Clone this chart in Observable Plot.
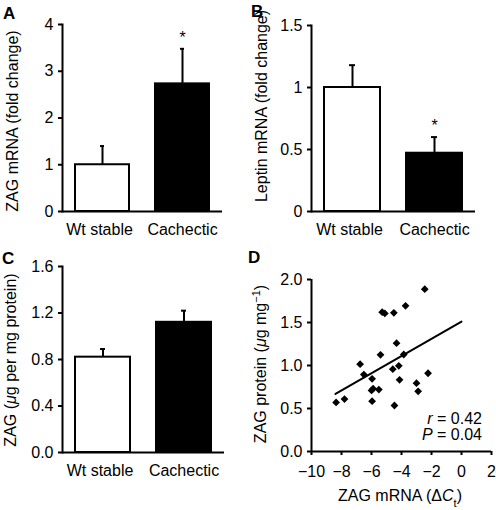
<!DOCTYPE html>
<html><head><meta charset="utf-8">
<script src="https://cdn.jsdelivr.net/npm/d3@7"></script>
<script src="https://cdn.jsdelivr.net/npm/@observablehq/plot@0.6"></script>
<style>
body{margin:0;background:#fff;}
#wrap{position:relative;width:496px;height:510px;font-family:"Liberation Sans",Arial,Helvetica,sans-serif;}
#wrap > svg{position:absolute;overflow:visible;}
</style></head><body><div id="wrap"></div>
<script>
// ---- data ----
const groups = ["Wt stable", "Cachectic"];

const zagMrna = [1.0, 2.73];
const zagMrnaSem = [0.40, 0.75];
const zagMrnaSig = ["", "*"];

const leptinMrna = [1.0, 0.47];
const leptinMrnaSem = [0.18, 0.13];
const leptinMrnaSig = ["", "*"];

const zagProtein = [0.82, 1.12];
const zagProteinSem = [0.07, 0.10];
const zagProteinSig = ["", ""];

const ticksA = [0, 1, 2, 3, 4];
const ticksB = [0, 0.5, 1, 1.5];
const ticksC = [0, 0.4, 0.8, 1.2, 1.6];
const ticksDx = [-10, -8, -6, -4, -2, 0, 2];
const ticksDy = [0, 0.5, 1, 1.5, 2];

const scatterX = [-8.36, -7.8, -6.76, -6.51, -5.96, -6.0, -5.89, -5.96, -5.51, -5.40, -5.29, -5.11,
                  -4.51, -4.58, -4.47, -4.33, -4.18, -4.13, -3.85, -3.73, -3.0, -2.89, -2.45, -2.23];
const scatterY = [0.57, 0.61, 1.015, 0.895, 0.845, 0.71, 0.73, 0.585, 0.72, 1.124, 1.62, 1.605,
                  1.613, 0.957, 0.535, 1.26, 0.996, 0.834, 1.128, 1.694, 0.794, 0.70, 1.887, 0.91];
const fitX = [-8.4, 0];
const fitY = [0.67, 1.51];
const statR = "0.42";
const statP = "0.04";

// ---- helpers ----
const FONT = '"Liberation Sans", Arial, Helvetica, sans-serif';
const wrap = document.getElementById("wrap");
const baseStyle = {fontSize: "16px", fontFamily: FONT, background: "transparent", color: "black", overflow: "visible"};

function place(svg, left, top) {
  svg.style.left = left + "px";
  svg.style.top = top + "px";
  wrap.appendChild(svg);
  return svg;
}

function yLabel(svg, bx, cy, parts) {
  const t = d3.select(svg).append("text")
    .attr("transform", `translate(${bx},${cy}) rotate(-90)`)
    .attr("text-anchor", "middle")
    .attr("font-family", FONT).attr("font-size", 16).attr("fill", "black");
  parts.forEach(p => {
    const s = t.append("tspan").text(p.t);
    if (p.i) s.attr("font-style", "italic");
    if (p.sup) s.attr("font-size", 11).attr("baseline-shift", "super");
    if (p.sub) s.attr("font-size", 11).attr("baseline-shift", "sub");
  });
  return t;
}

function barPanel({mean, sem, sig, yDomain, yTicks, yFormat, margins}) {
  const rows = groups.map((g, i) => ({group: g, mean: mean[i], top: mean[i] + sem[i], sig: sig[i]}));
  return Plot.plot({
    width: 248, height: 255, ...margins,
    style: baseStyle,
    x: {domain: groups, paddingInner: 0.32, paddingOuter: 0.16, label: null},
    y: {domain: yDomain, label: null},
    color: {domain: groups, range: ["white", "black"]},
    marks: [
      Plot.barY(rows, {x: "group", y: "mean", fill: "group", stroke: "black", strokeWidth: 2}),
      Plot.ruleX(rows, {x: "group", y1: "mean", y2: "top", strokeWidth: 2}),
      Plot.tickY(rows, {x: "group", y: "top", strokeWidth: 2, insetLeft: 25, insetRight: 25}),
      Plot.text(rows, {x: "group", y: "top", text: "sig", dy: -11, fontSize: 16}),
      Plot.ruleY([yDomain[0]], {strokeWidth: 2}),
      Plot.frame({anchor: "left", strokeWidth: 2}),
      Plot.axisY(yTicks, {tickSize: 4, tickPadding: 5, strokeWidth: 2, tickFormat: yFormat, label: null}),
      Plot.axisX([groups[0]], {tickSize: 0, tickPadding: 12, dx: -3, label: null}),
      Plot.axisX([groups[1]], {tickSize: 0, tickPadding: 12, label: null})
    ]
  });
}

// ---- Panel A ----
const pA = place(barPanel({
  mean: zagMrna, sem: zagMrnaSem, sig: zagMrnaSig, yDomain: [0, 4], yTicks: ticksA, yFormat: d3.format("d"),
  margins: {marginTop: 24, marginRight: 26, marginBottom: 44, marginLeft: 62}
}), 0, 0);
yLabel(pA, 17.5, 121, [{t: "ZAG mRNA (fold change)"}]);

// ---- Panel B ----
const pB = place(barPanel({
  mean: leptinMrna, sem: leptinMrnaSem, sig: leptinMrnaSig, yDomain: [0, 1.5], yTicks: ticksB, yFormat: d => String(d),
  margins: {marginTop: 25, marginRight: 21, marginBottom: 44, marginLeft: 63}
}), 248, 0);
yLabel(pB, 19, 106, [{t: "Leptin mRNA (fold change)"}]);

// ---- Panel C ----
const pC = place(barPanel({
  mean: zagProtein, sem: zagProteinSem, sig: zagProteinSig, yDomain: [0, 1.6], yTicks: ticksC, yFormat: d3.format(".1f"),
  margins: {marginTop: 11, marginRight: 24, marginBottom: 58, marginLeft: 62}
}), 0, 255);
yLabel(pC, 15.5, 105, [{t: "ZAG ("}, {t: "\u03bc", i: true}, {t: "g per mg protein)"}]);

// ---- Panel D ----
const pts = scatterX.map((x, i) => ({x, y: scatterY[i]}));
const fit = fitX.map((x, i) => ({x, y: fitY[i]}));
const pD = place(Plot.plot({
  width: 248, height: 255, marginTop: 24, marginRight: 5, marginBottom: 59, marginLeft: 63,
  style: baseStyle,
  x: {domain: [-10, 2], label: null},
  y: {domain: [0, 2], label: null},
  marks: [
    Plot.ruleY([0], {strokeWidth: 2}),
    Plot.ruleX([-10], {strokeWidth: 2}),
    Plot.line(fit, {x: "x", y: "y", strokeWidth: 2}),
    Plot.dot(pts, {x: "x", y: "y", symbol: "diamond2", r: 3.5, fill: "black", stroke: "none"}),
    Plot.axisX(ticksDx, {tickSize: 4, tickPadding: 10, strokeWidth: 2, label: null}),
    Plot.axisY(ticksDy, {tickSize: 4, tickPadding: 5, strokeWidth: 2, tickFormat: d3.format(".1f"), label: null})
  ]
}), 248, 255);
yLabel(pD, 17.5, 109, [{t: "ZAG protein ("}, {t: "\u03bc", i: true}, {t: "g mg"}, {t: "\u22121", sup: true}, {t: ")"}]);
{
  const g = d3.select(pD);
  const xl = g.append("text").attr("x", 152).attr("y", 246).attr("text-anchor", "middle")
    .attr("font-family", FONT).attr("font-size", 16).attr("fill", "black");
  xl.append("tspan").text("ZAG mRNA (\u0394");
  xl.append("tspan").text("C").attr("font-style", "italic");
  xl.append("tspan").text("t").attr("font-size", 11).attr("baseline-shift", "sub");
  xl.append("tspan").text(")");
  const st = [["r", statR, 169], ["P", statP, 185]];
  st.forEach(([sym, val, by]) => {
    const t = g.append("text").attr("x", 234).attr("y", by).attr("text-anchor", "end")
      .attr("font-family", FONT).attr("font-size", 16).attr("fill", "black");
    t.append("tspan").text(sym).attr("font-style", "italic");
    t.append("tspan").text(" = " + val);
  });
}

// ---- panel letters ----
const ov = d3.select(wrap).append("svg").attr("width", 496).attr("height", 510)
  .style("left", "0px").style("top", "0px");
[["A", 3, 19], ["B", 251, 17], ["C", 2, 264], ["D", 248, 263]].forEach(([s, x, y]) => {
  ov.append("text").attr("x", x).attr("y", y).text(s)
    .attr("font-family", FONT).attr("font-weight", "bold").attr("font-size", 17).attr("fill", "black");
});
</script>
</body></html>
